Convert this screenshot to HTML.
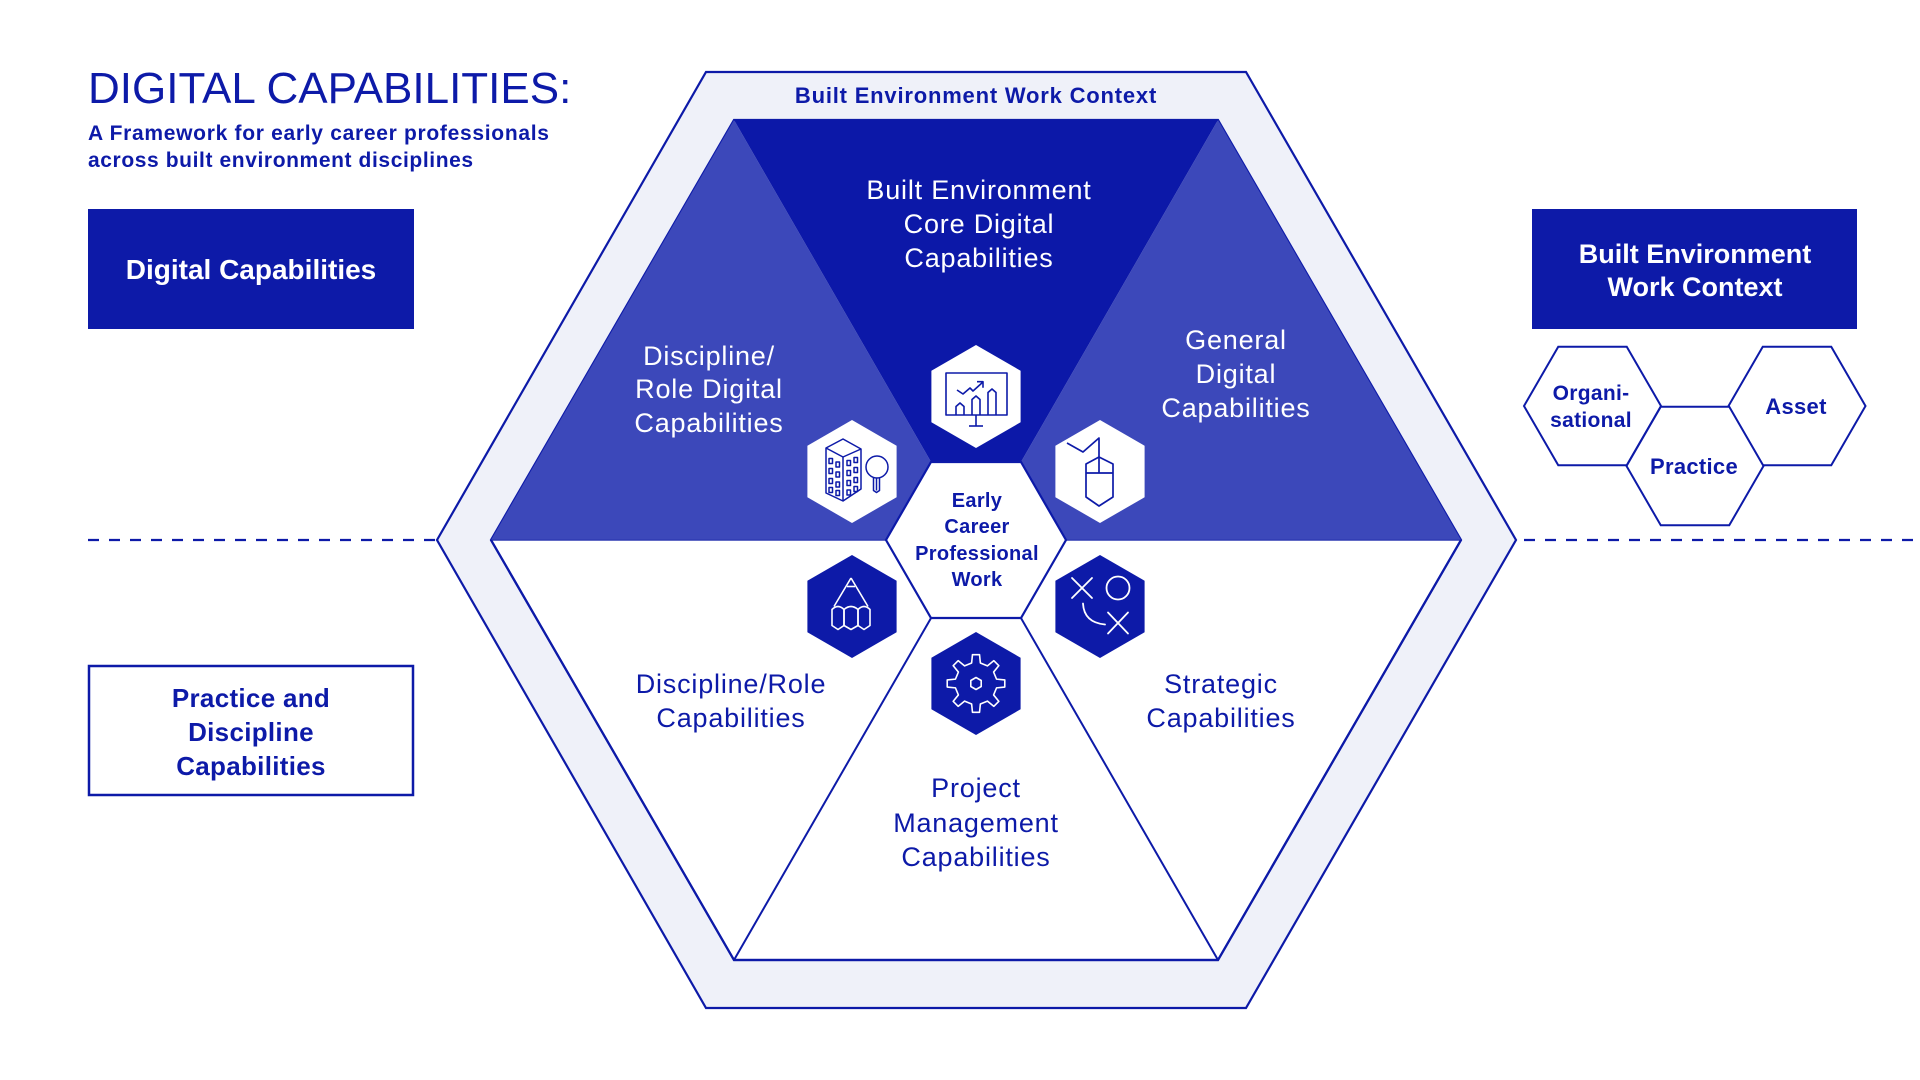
<!DOCTYPE html>
<html>
<head>
<meta charset="utf-8">
<style>
html,body{margin:0;padding:0;background:#fff;}
svg{display:block;}
text{font-family:"Liberation Sans",Arial,sans-serif;}
</style>
</head>
<body>
<svg width="1920" height="1080" viewBox="0 0 1920 1080" xmlns="http://www.w3.org/2000/svg">
<defs>
  <polygon id="ihex" points="0,-51.5 44.6,-25.75 44.6,25.75 0,51.5 -44.6,25.75 -44.6,-25.75"/>
</defs>
<rect width="1920" height="1080" fill="#fff"/>

<!-- Title -->
<text x="88" y="103" font-size="44" fill="#0d1aa8">DIGITAL CAPABILITIES:</text>
<text x="88" y="140" font-size="21" font-weight="bold" fill="#0d1aa8" letter-spacing="0.7">A Framework for early career professionals</text>
<text x="88" y="167" font-size="21" font-weight="bold" fill="#0d1aa8" letter-spacing="0.6">across built environment disciplines</text>

<!-- Left boxes -->
<rect x="88" y="209" width="326" height="120" fill="#0d1aa8"/>
<text x="251" y="279" font-size="28" font-weight="bold" fill="#fff" text-anchor="middle">Digital Capabilities</text>

<rect x="89" y="666" width="324" height="129" fill="#fff" stroke="#0d1aa8" stroke-width="2.5"/>
<g font-size="26" font-weight="bold" fill="#0d1aa8" text-anchor="middle" letter-spacing="0.3">
  <text x="251" y="707">Practice and</text>
  <text x="251" y="741">Discipline</text>
  <text x="251" y="775">Capabilities</text>
</g>

<!-- Dashed lines -->
<line x1="88" y1="540" x2="437" y2="540" stroke="#0d1aa8" stroke-width="2.2" stroke-dasharray="11 10"/>
<line x1="1524" y1="540" x2="1920" y2="540" stroke="#0d1aa8" stroke-width="2.2" stroke-dasharray="11 10"/>

<!-- Right box -->
<rect x="1532" y="209" width="325" height="120" fill="#0d1aa8"/>
<g font-size="27" font-weight="bold" fill="#fff" text-anchor="middle">
  <text x="1695" y="263">Built Environment</text>
  <text x="1695" y="296">Work Context</text>
</g>

<!-- Context hexes -->
<g fill="#fff" stroke="#0d1aa8" stroke-width="2">
  <polygon points="1524,406 1558.25,346.7 1626.75,346.7 1661,406 1626.75,465.3 1558.25,465.3"/>
  <polygon points="1728.5,406 1762.75,346.7 1831.25,346.7 1865.5,406 1831.25,465.3 1762.75,465.3"/>
  <polygon points="1626.5,466 1660.75,406.7 1729.25,406.7 1763.5,466 1729.25,525.3 1660.75,525.3"/>
</g>
<g font-size="21" font-weight="bold" fill="#0d1aa8" text-anchor="middle" letter-spacing="0.3">
  <text x="1591" y="400">Organi-</text>
  <text x="1591" y="427">sational</text>
  <text x="1694" y="474" font-size="22">Practice</text>
  <text x="1796" y="414" font-size="22">Asset</text>
</g>

<!-- Main hexagon -->
<polygon points="437,540 706,72 1246,72 1516,540 1246,1008 706,1008" fill="#eff1f9" stroke="#0d1aa8" stroke-width="2.2"/>
<polygon points="491,540 734,120 1218,120 1461,540 1218,960 734,960" fill="#fff" stroke="#0d1aa8" stroke-width="2.2"/>
<polygon points="734,120 491,540 976,540" fill="#3c48ba"/>
<polygon points="1218,120 1461,540 976,540" fill="#3c48ba"/>
<polygon points="734,120 1218,120 976,540" fill="#0c18a8"/>
<line x1="491" y1="540" x2="1461" y2="540" stroke="#2e3ab2" stroke-width="1.5"/>
<line x1="976" y1="540" x2="734" y2="960" stroke="#0d1aa8" stroke-width="2"/>
<line x1="976" y1="540" x2="1218" y2="960" stroke="#0d1aa8" stroke-width="2"/>
<polyline points="491,540 734,960 1218,960 1461,540" fill="none" stroke="#0d1aa8" stroke-width="2.2"/>

<!-- Center hex -->
<polygon points="886,540 931,462 1021,462 1066,540 1021,618 931,618" fill="#fff" stroke="#0d1aa8" stroke-width="2.2"/>
<g font-size="20" font-weight="bold" fill="#0d1aa8" text-anchor="middle" letter-spacing="0.3">
  <text x="977" y="507">Early</text>
  <text x="977" y="533">Career</text>
  <text x="977" y="560">Professional</text>
  <text x="977" y="586">Work</text>
</g>

<!-- Top band label -->
<text x="976" y="103" font-size="22" font-weight="bold" fill="#0d1aa8" text-anchor="middle" letter-spacing="0.8">Built Environment Work Context</text>

<!-- Upper labels -->
<g font-size="27" fill="#fff" text-anchor="middle" letter-spacing="0.8">
  <text x="979" y="199">Built Environment</text>
  <text x="979" y="233">Core Digital</text>
  <text x="979" y="267">Capabilities</text>
  <text x="709" y="365">Discipline/</text>
  <text x="709" y="398">Role Digital</text>
  <text x="709" y="432">Capabilities</text>
  <text x="1236" y="349">General</text>
  <text x="1236" y="383">Digital</text>
  <text x="1236" y="417">Capabilities</text>
</g>

<!-- Lower labels -->
<g font-size="27" fill="#0d1aa8" text-anchor="middle" letter-spacing="0.8">
  <text x="731" y="693">Discipline/Role</text>
  <text x="731" y="727">Capabilities</text>
  <text x="1221" y="693">Strategic</text>
  <text x="1221" y="727">Capabilities</text>
  <text x="976" y="797">Project</text>
  <text x="976" y="832">Management</text>
  <text x="976" y="866">Capabilities</text>
</g>

<!-- Icon hex: chart (top) -->
<g transform="translate(976,396.5)">
  <use href="#ihex" fill="#fff"/>
  <g fill="none" stroke="#0d1aa8" stroke-width="1.6" stroke-linejoin="round">
    <rect x="-30" y="-23.5" width="61" height="42"/>
    <line x1="0" y1="18.5" x2="0" y2="29.5"/>
    <line x1="-7" y1="29.5" x2="7" y2="29.5"/>
    <path d="M-20,18.5 V10 L-16,6.5 L-12,10 V18.5"/>
    <path d="M-4,18.5 V3 L0,-0.5 L4,3 V18.5"/>
    <path d="M12,18.5 V-4 L16,-7.5 L20,-4 V18.5"/>
    <polyline points="-19,-6.5 -13,-2.5 -6,-8.5 -3,-5.5 7,-14.5"/>
    <polyline points="1,-14.8 7,-14.8 7,-8.8"/>
  </g>
</g>

<!-- Icon hex: building (upper-left) -->
<g transform="translate(852,471.5)">
  <use href="#ihex" fill="#fff"/>
  <g fill="none" stroke="#0d1aa8" stroke-width="1.5" stroke-linejoin="round">
    <path d="M-26,-23.5 L-9,-32.5 L9,-22.5 L9,17.5 L-9,29.5 L-26,21.5 Z"/>
    <path d="M-26,-23.5 L-9,-14.5 L9,-22.5"/>
    <line x1="-9" y1="-14.5" x2="-9" y2="29.5"/>
    <rect x="-23" y="-13" width="3.5" height="5"/>
    <rect x="-16" y="-9.5" width="3.5" height="5"/>
    <rect x="-23" y="-3" width="3.5" height="5"/>
    <rect x="-16" y="0.5" width="3.5" height="5"/>
    <rect x="-23" y="7" width="3.5" height="5"/>
    <rect x="-16" y="10.5" width="3.5" height="5"/>
    <rect x="-23" y="16" width="3.5" height="5"/>
    <rect x="-16" y="19" width="3.5" height="5"/>
    <rect x="-5" y="-11" width="3.5" height="5"/>
    <rect x="2" y="-14" width="3.5" height="5"/>
    <rect x="-5" y="-1" width="3.5" height="5"/>
    <rect x="2" y="-4" width="3.5" height="5"/>
    <rect x="-5" y="9" width="3.5" height="5"/>
    <rect x="2" y="6" width="3.5" height="5"/>
    <rect x="-5" y="18.5" width="3.5" height="5"/>
    <rect x="2" y="15" width="3.5" height="5"/>
    <circle cx="25" cy="-4.5" r="11"/>
    <path d="M21.5,6.5 V19 L24.5,21 L27.5,19 V6.5"/>
    <line x1="24.5" y1="6.5" x2="24.5" y2="19"/>
  </g>
</g>

<!-- Icon hex: mouse (upper-right) -->
<g transform="translate(1100,471.5)">
  <use href="#ihex" fill="#fff"/>
  <g fill="none" stroke="#0d1aa8" stroke-width="1.7" stroke-linejoin="round">
    <polyline points="-33,-28.5 -17,-19.5 -1,-33.5 -1,1.5"/>
    <path d="M-1,-14.5 L13,-7.5 L13,25.5 L-1,34.5 L-14,25.5 L-14,-7.5 Z"/>
    <line x1="-14" y1="1.5" x2="13" y2="1.5"/>
  </g>
</g>

<!-- Icon hex: pencil (lower-left) -->
<g transform="translate(852,606.5)">
  <use href="#ihex" fill="#0d1aa8"/>
  <g fill="none" stroke="#fff" stroke-width="1.6" stroke-linejoin="round">
    <path d="M-1,-28.5 L-18,0 M-1,-28.5 L16,0"/>
    <line x1="-5" y1="-20" x2="3" y2="-20"/>
    <path d="M-20,3 Q-14,-3 -8,3 V19 L-14,23 L-20,19 Z"/>
    <path d="M-8,3 Q-1,-3 6,3 V19 L-1,23 L-8,19 Z"/>
    <path d="M6,3 Q12,-3 18,3 V19 L12,23 L6,19 Z"/>
  </g>
</g>

<!-- Icon hex: X O (lower-right) -->
<g transform="translate(1100,606.5)">
  <use href="#ihex" fill="#0d1aa8"/>
  <g fill="none" stroke="#fff" stroke-width="1.8" stroke-linecap="round">
    <path d="M-28,-28.5 L-8,-8.5 M-8,-28.5 L-28,-8.5"/>
    <circle cx="18" cy="-18.5" r="11.5"/>
    <path d="M-17,-3 Q-16,16 5,18"/>
    <path d="M8,6 L28,27 M28,6 L8,27"/>
  </g>
</g>

<!-- Icon hex: gear (bottom) -->
<g transform="translate(976,683.5)">
  <use href="#ihex" fill="#0d1aa8"/>
  <g fill="none" stroke="#fff" stroke-width="1.6" stroke-linejoin="round">
    <polygon points="-4.37,-20.54 -3.53,-28.78 3.53,-28.78 4.37,-20.54 11.44,-17.61 17.85,-22.85 22.85,-17.85 17.61,-11.44 20.54,-4.37 28.78,-3.53 28.78,3.53 20.54,4.37 17.61,11.44 22.85,17.85 17.85,22.85 11.44,17.61 4.37,20.54 3.53,28.78 -3.53,28.78 -4.37,20.54 -11.44,17.61 -17.85,22.85 -22.85,17.85 -17.61,11.44 -20.54,4.37 -28.78,3.53 -28.78,-3.53 -20.54,-4.37 -17.61,-11.44 -22.85,-17.85 -17.85,-22.85 -11.44,-17.61"/>
    <polygon points="0,-6 5.2,-3 5.2,3 0,6 -5.2,3 -5.2,-3"/>
  </g>
</g>
</svg>
</body>
</html>
